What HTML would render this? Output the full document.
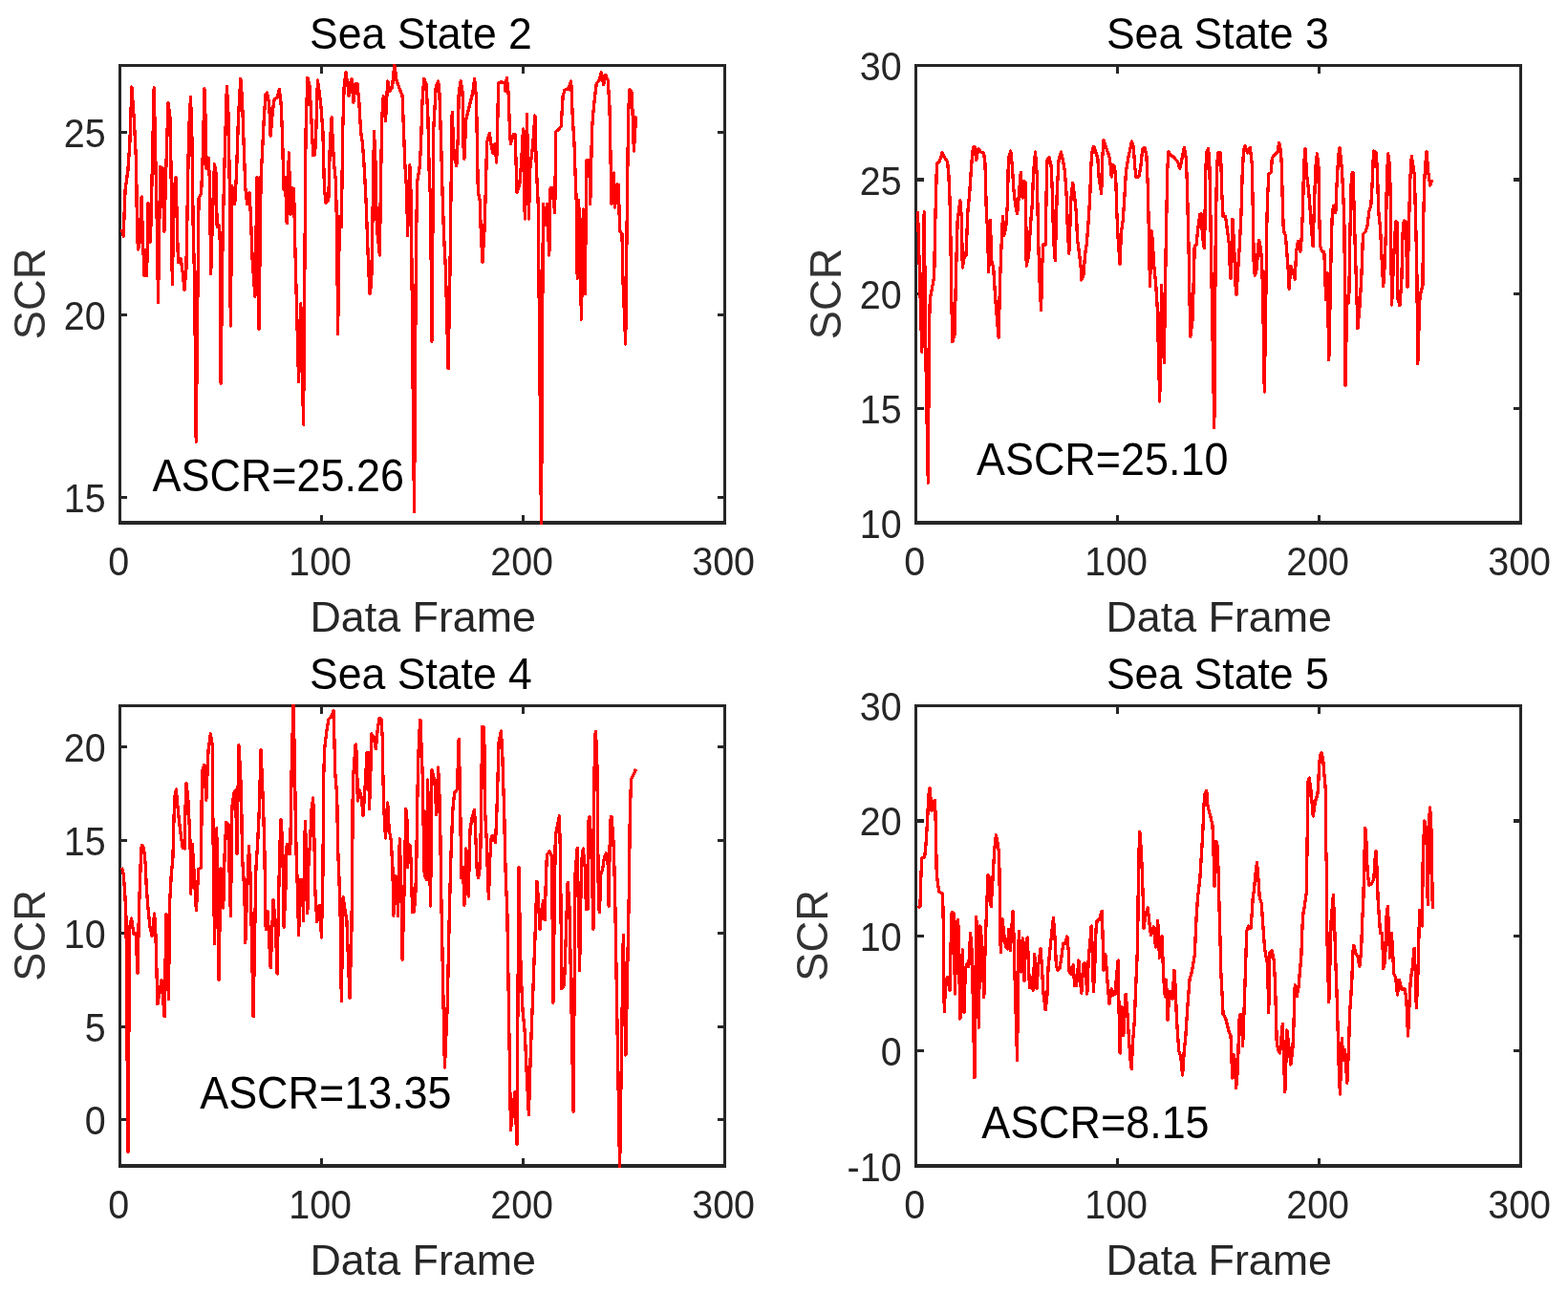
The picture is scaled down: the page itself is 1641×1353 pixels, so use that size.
<!DOCTYPE html>
<html lang="en"><head><meta charset="utf-8"><title>SCR vs Data Frame</title>
<style>
html,body{margin:0;padding:0;background:#fff;}
body{width:1641px;height:1353px;overflow:hidden;}
svg{display:block;}
text{font-family:"Liberation Sans",sans-serif;}
.tk{font-size:41.8px;fill:#262626;}
.lb{font-size:45.2px;fill:#262626;}
.yl{font-size:46.4px;fill:#333;}
.tt{font-size:46.6px;fill:#000;}
.an{font-size:47.6px;fill:#000;}
.ax{fill:#262626;shape-rendering:crispEdges;}
.ln{shape-rendering:crispEdges;fill:none;stroke:#ff0000;stroke-width:3.3;stroke-linejoin:round;stroke-linecap:butt;}
</style></head><body>
<svg width="1641" height="1353" viewBox="0 0 1641 1353">
<rect width="1641" height="1353" fill="#fff"/>

<g class="plot">
<path class="ax" d="M124 67h636v3h-636zM124 545h636v4h-636zM124 67h3v482h-3zM757 67h3v482h-3zM335 539h3v6h-3zM335 70h3v7h-3zM546 539h3v6h-3zM546 70h3v7h-3zM127 137h6v3h-6zM751 137h6v3h-6zM127 328h6v3h-6zM751 328h6v3h-6zM127 519h6v3h-6zM751 519h6v3h-6z"/>
<clipPath id="c0"><rect x="124.0" y="67.0" width="636.0" height="482.0"/></clipPath>
<polyline class="ln" clip-path="url(#c0)" points="127.6,240.2 129.2,247.1 131.1,198.6 133.9,178.3 135.9,148.7 137.9,91.0 140.3,124.7 142.6,170.9 143.5,244.8 144.6,261.1 146.1,254.1 148.1,206.0 149.6,254.1 151.1,288.3 153.6,288.8 155.1,212.5 157.5,253.2 159.2,180.2 161.2,91.8 162.9,170.9 164.4,239.3 165.5,316.3 167.7,174.6 169.9,175.5 171.9,242.1 174.0,170.9 176.0,107.1 178.2,124.7 179.2,189.4 180.3,297.5 182.3,196.8 184.1,185.7 185.6,244.8 186.5,274.4 189.3,270.7 191.2,285.5 193.0,303.1 194.9,281.8 196.3,207.9 197.6,137.6 199.5,101.6 200.8,137.6 202.3,244.8 203.6,291.1 205.2,462.3 208.0,207.9 210.6,202.3 212.4,159.8 213.9,92.9 215.4,133.9 216.1,176.4 218.3,165.4 219.4,189.4 220.7,286.4 222.6,222.7 224.4,171.8 225.9,180.2 227.2,237.4 229.1,235.6 230.3,253.2 231.1,401.3 233.1,244.8 235.0,170.9 237.4,90.5 239.2,122.8 240.2,189.4 241.3,341.0 242.9,194.9 245.7,213.4 247.5,182.0 249.4,124.7 251.8,82.2 253.5,104.4 254.9,145.0 256.8,196.8 258.6,213.4 260.9,201.4 262.3,222.7 264.2,272.6 266.9,310.2 269.0,185.7 271.0,344.4 273.1,185.7 274.3,163.5 276.2,124.7 278.0,98.8 279.5,97.0 281.7,108.1 283.2,142.3 285.4,115.5 287.3,103.4 290.1,102.5 292.3,93.3 294.1,108.1 295.6,143.2 296.9,198.6 298.4,185.7 300.2,233.8 302.4,159.8 303.9,224.5 305.8,196.8 307.6,197.7 308.5,244.8 312.6,399.8 314.8,317.6 317.6,444.2 320.0,139.5 321.8,81.3 324.0,89.6 325.9,124.7 327.7,162.6 329.6,161.7 330.9,133.9 332.4,84.0 334.2,97.0 336.0,111.8 337.9,137.6 339.4,196.8 341.0,212.5 343.8,209.7 345.3,152.4 347.1,122.8 348.4,152.4 349.9,174.6 351.4,189.4 352.7,244.8 353.6,349.5 355.4,226.4 357.3,237.4 358.8,133.9 360.1,91.4 361.9,75.7 363.8,87.7 365.1,100.7 366.5,87.7 368.0,82.2 369.9,107.1 372.1,87.7 373.9,87.7 375.8,106.2 377.6,137.6 379.5,150.6 381.3,176.4 383.2,213.4 385.0,263.3 386.9,307.7 388.7,296.6 390.0,226.4 391.5,137.6 393.0,170.9 394.3,237.4 397.4,267.0 398.5,189.4 399.8,122.8 401.3,100.7 403.5,126.5 405.7,85.0 408.1,95.1 410.5,91.4 412.8,67.4 415.0,84.0 418.3,93.3 421.1,99.7 422.4,133.9 423.8,170.9 425.7,200.5 426.6,246.7 428.8,172.8 430.3,207.9 431.6,352.7 433.5,535.7 435.5,250.4 436.8,189.4 439.0,176.4 440.5,152.4 442.0,106.2 443.8,82.2 446.0,87.7 447.9,122.8 449.4,189.4 450.6,207.9 451.9,357.3 453.8,133.9 456.2,91.4 458.6,85.0 459.9,97.0 461.7,152.4 463.0,200.5 464.5,244.8 466.4,281.8 469.1,385.9 471.0,281.8 471.9,207.9 473.2,117.3 475.2,163.5 477.8,173.7 479.3,143.2 480.2,97.0 482.1,85.0 484.1,97.0 485.0,152.4 485.9,166.3 487.8,124.7 490.2,115.5 492.9,104.4 494.8,97.0 496.6,82.2 498.5,102.5 499.4,152.4 500.3,200.5 502.2,209.7 503.1,237.4 504.9,274.4 506.8,244.8 507.7,219.0 508.6,189.4 509.6,148.7 512.4,139.5 514.2,152.4 516.0,160.7 517.9,150.6 519.7,170.0 520.7,130.2 521.6,86.8 524.4,85.9 528.1,86.8 529.0,95.1 530.3,81.3 532.1,97.0 533.6,139.5 534.5,150.6 537.3,140.4 539.1,140.4 540.1,170.9 541.0,201.4 543.8,192.2 545.6,170.9 547.5,134.9 549.3,229.1 551.5,119.2 553.4,229.1 554.9,174.6 557.6,152.4 559.9,121.0 561.3,174.6 563.2,213.4 566.5,552.3 568.4,213.4 570.6,235.6 572.4,213.4 574.8,267.0 576.1,196.8 578.0,196.8 580.7,222.7 581.7,137.6 584.4,135.8 587.2,132.1 589.1,100.7 590.9,94.2 594.6,93.3 597.7,85.0 599.2,121.0 601.1,152.4 602.0,180.2 603.5,217.1 604.2,291.1 605.7,209.7 608.5,334.2 610.3,219.0 612.2,307.7 614.0,167.2 616.8,167.2 617.7,213.4 619.6,133.9 621.4,111.8 624.2,87.7 627.0,84.0 629.4,75.7 631.6,88.7 633.8,78.5 636.2,84.0 638.0,111.8 639.0,163.5 639.9,213.4 642.3,181.1 643.6,217.1 645.4,193.1 647.3,193.1 648.6,241.2 651.0,244.8 651.9,291.1 654.7,360.1 656.0,244.8 656.9,170.9 657.8,115.5 658.9,93.3 661.1,97.0 662.1,119.2 663.4,158.0 665.4,122.8 665.6,133.9"/>
<text class="tk" transform="translate(124.10 602.00) scale(0.944 1)" text-anchor="middle">0</text>
<text class="tk" transform="translate(335.10 602.00) scale(0.944 1)" text-anchor="middle">100</text>
<text class="tk" transform="translate(546.10 602.00) scale(0.944 1)" text-anchor="middle">200</text>
<text class="tk" transform="translate(757.10 602.00) scale(0.944 1)" text-anchor="middle">300</text>
<text class="tk" transform="translate(110.60 154.00) scale(0.944 1)" text-anchor="end">25</text>
<text class="tk" transform="translate(110.60 345.00) scale(0.944 1)" text-anchor="end">20</text>
<text class="tk" transform="translate(110.60 536.00) scale(0.944 1)" text-anchor="end">15</text>
<text class="tt" transform="translate(440.50 50.70) scale(0.956 1)" text-anchor="middle">Sea State 2</text>
<text class="lb" transform="translate(442.70 661.00) scale(0.992 1)" text-anchor="middle">Data Frame</text>
<text class="yl" transform="translate(47.20 307.45) rotate(-90) scale(0.975 1)" text-anchor="middle">SCR</text>
<text class="an" transform="translate(159.60 514.00) scale(0.9437 1)">ASCR=25.26</text>
</g>
<g class="plot">
<path class="ax" d="M957 67h636v3h-636zM957 545h636v4h-636zM957 67h3v482h-3zM1590 67h3v482h-3zM1168 539h3v6h-3zM1168 70h3v7h-3zM1379 539h3v6h-3zM1379 70h3v7h-3zM960 186h7v4h-7zM1584 186h6v4h-6zM960 306h7v3h-7zM1584 306h6v3h-6zM960 426h7v3h-7zM1584 426h6v3h-6z"/>
<clipPath id="c1"><rect x="957.0" y="67.0" width="636.0" height="482.0"/></clipPath>
<polyline class="ln" clip-path="url(#c1)" points="960.5,220.9 961.6,257.9 964.8,368.4 967.2,221.8 969.2,392.4 971.3,505.2 972.5,341.1 973.3,313.3 975.0,304.1 977.7,289.3 978.6,239.4 979.6,202.4 980.5,171.0 983.3,169.2 986.0,159.9 988.8,165.4 991.6,169.2 992.9,183.9 994.0,208.0 994.9,248.6 995.8,313.3 996.8,357.7 999.0,350.3 999.9,313.3 1000.8,276.4 1002.1,232.0 1004.9,209.8 1006.4,228.3 1007.3,280.1 1009.1,269.0 1011.0,267.1 1012.9,220.9 1014.7,202.4 1016.5,174.7 1018.4,154.4 1019.9,153.4 1021.7,167.3 1023.9,155.3 1026.2,159.0 1029.5,159.9 1031.0,171.0 1032.3,220.9 1033.5,239.4 1034.7,284.7 1036.3,230.2 1037.8,272.7 1039.7,280.1 1041.5,309.6 1043.3,331.8 1045.2,353.1 1046.5,294.8 1048.0,257.9 1049.5,226.4 1050.7,246.8 1052.6,239.4 1054.4,213.5 1055.4,165.4 1057.8,158.1 1059.4,174.7 1060.9,198.7 1062.8,215.4 1064.6,223.7 1066.5,202.4 1068.3,180.2 1070.2,207.0 1071.1,189.5 1073.5,191.3 1074.2,278.2 1076.6,267.1 1078.5,235.7 1080.3,213.5 1081.6,180.2 1083.5,159.0 1085.3,183.9 1086.8,256.0 1088.1,294.8 1089.6,324.4 1090.8,276.4 1092.0,256.0 1094.2,256.0 1095.1,202.4 1096.0,167.3 1097.9,164.5 1100.1,172.8 1101.6,206.1 1102.5,248.6 1104.3,272.7 1106.2,202.4 1108.0,167.3 1110.4,159.0 1112.3,167.3 1114.5,180.2 1116.4,208.0 1117.3,239.4 1118.8,265.3 1121.0,206.1 1122.8,191.3 1124.7,206.1 1126.5,224.6 1127.5,250.5 1129.3,263.4 1131.2,280.1 1131.8,293.0 1134.1,287.4 1135.5,267.1 1137.4,254.2 1139.2,230.2 1140.7,206.1 1142.0,171.0 1143.3,156.2 1144.8,153.4 1147.0,159.9 1148.8,165.4 1150.3,187.6 1152.7,202.4 1153.7,165.4 1155.0,147.0 1156.8,152.5 1159.6,159.9 1161.4,165.4 1163.3,184.9 1164.8,172.8 1166.6,174.7 1167.9,191.3 1168.8,220.9 1170.1,248.6 1172.0,276.4 1173.4,243.1 1175.3,230.2 1177.1,202.4 1178.4,180.2 1180.8,165.4 1182.7,156.2 1184.5,147.9 1186.4,154.4 1187.7,174.7 1189.2,185.8 1191.9,184.9 1193.8,174.7 1195.6,156.2 1198.0,154.4 1199.9,163.6 1201.2,193.2 1202.1,230.2 1203.0,276.4 1203.6,299.5 1204.9,241.2 1206.2,250.5 1207.6,276.4 1209.5,294.8 1211.3,322.6 1213.7,420.1 1215.6,298.5 1218.3,379.5 1220.2,257.9 1220.9,220.9 1221.9,174.7 1223.0,159.0 1225.2,162.7 1228.0,163.6 1230.7,167.3 1232.6,169.2 1234.8,176.5 1237.2,165.4 1239.4,154.4 1241.3,165.4 1242.4,193.2 1243.3,230.2 1244.2,267.1 1245.0,313.3 1245.9,352.1 1248.3,331.8 1249.2,294.8 1250.2,257.9 1252.0,256.0 1253.8,239.4 1255.7,224.6 1257.2,223.7 1258.5,246.8 1260.3,259.7 1260.9,239.4 1261.6,183.9 1262.7,159.9 1264.6,155.3 1265.9,174.7 1266.8,220.9 1267.7,276.4 1270.8,447.5 1272.3,239.4 1273.4,183.9 1274.5,159.9 1277.0,159.9 1277.9,171.0 1278.8,202.4 1280.1,226.4 1282.5,226.4 1284.3,239.4 1286.2,254.2 1287.1,276.4 1288.0,291.1 1289.9,229.2 1291.7,257.9 1292.7,294.8 1294.1,308.7 1295.4,285.6 1297.3,257.9 1299.1,220.9 1300.1,183.9 1301.5,158.1 1302.8,152.5 1305.6,159.9 1308.4,154.4 1310.2,171.0 1310.5,183.9 1311.5,230.2 1312.2,276.4 1313.3,288.4 1315.5,280.1 1316.5,257.9 1317.8,251.4 1319.6,261.6 1320.7,276.4 1321.7,309.6 1323.3,410.0 1324.8,313.3 1325.7,239.4 1326.6,206.1 1327.9,182.1 1330.3,180.2 1331.3,165.4 1334.0,161.8 1336.8,159.9 1338.7,149.7 1340.5,158.1 1341.4,174.7 1342.3,211.7 1343.3,241.2 1345.5,246.8 1347.0,267.1 1348.3,283.8 1349.2,302.2 1350.7,278.2 1352.9,283.8 1355.3,292.1 1356.6,263.4 1358.4,252.3 1360.8,263.4 1362.1,250.5 1363.6,217.2 1364.5,174.7 1366.0,155.3 1367.7,183.9 1369.5,198.7 1371.0,217.2 1372.5,239.4 1374.1,257.9 1375.6,209.8 1376.9,174.7 1378.4,160.8 1379.9,174.7 1380.6,220.9 1381.7,257.9 1383.9,263.4 1385.8,263.4 1386.7,285.6 1387.6,313.3 1389.1,285.6 1390.8,376.7 1393.2,257.9 1394.1,228.3 1395.4,215.4 1397.8,222.8 1398.7,198.7 1400.6,165.4 1401.9,154.4 1403.3,165.4 1404.6,180.2 1406.1,211.7 1407.0,239.4 1408.0,403.1 1409.8,309.6 1411.7,317.0 1413.0,239.4 1414.4,182.1 1415.9,180.2 1417.2,220.9 1418.1,254.2 1419.4,294.8 1420.9,343.8 1422.8,322.6 1424.6,294.8 1425.5,272.7 1426.5,244.9 1429.2,242.2 1431.1,235.7 1432.9,220.9 1434.8,215.4 1436.6,183.9 1437.5,158.1 1440.3,159.9 1441.6,183.9 1442.7,220.9 1444.6,239.4 1445.9,267.1 1447.7,299.5 1449.0,280.1 1450.5,239.4 1451.4,187.6 1452.7,160.8 1454.2,171.0 1455.1,198.7 1456.0,276.4 1456.6,318.9 1458.8,267.1 1460.7,232.0 1461.9,232.0 1463.0,313.3 1464.9,319.8 1466.8,294.8 1468.0,244.9 1469.3,231.1 1471.2,232.0 1473.0,300.4 1474.5,235.7 1475.8,187.6 1477.3,163.6 1479.1,174.7 1480.4,183.9 1481.5,226.4 1482.8,280.1 1483.8,380.4 1486.0,309.6 1488.9,298.5 1489.7,228.3 1490.8,187.6 1492.1,169.2 1493.0,158.1 1494.8,180.2 1496.7,194.1 1498.5,189.5 1499.8,189.1"/>
<text class="tk" transform="translate(957.10 602.00) scale(0.944 1)" text-anchor="middle">0</text>
<text class="tk" transform="translate(1168.10 602.00) scale(0.944 1)" text-anchor="middle">100</text>
<text class="tk" transform="translate(1379.10 602.00) scale(0.944 1)" text-anchor="middle">200</text>
<text class="tk" transform="translate(1590.10 602.00) scale(0.944 1)" text-anchor="middle">300</text>
<text class="tk" transform="translate(943.60 84.00) scale(0.944 1)" text-anchor="end">30</text>
<text class="tk" transform="translate(943.60 203.62) scale(0.944 1)" text-anchor="end">25</text>
<text class="tk" transform="translate(943.60 323.25) scale(0.944 1)" text-anchor="end">20</text>
<text class="tk" transform="translate(943.60 442.88) scale(0.944 1)" text-anchor="end">15</text>
<text class="tk" transform="translate(943.60 562.50) scale(0.944 1)" text-anchor="end">10</text>
<text class="tt" transform="translate(1274.30 50.70) scale(0.956 1)" text-anchor="middle">Sea State 3</text>
<text class="lb" transform="translate(1275.70 661.00) scale(0.992 1)" text-anchor="middle">Data Frame</text>
<text class="yl" transform="translate(880.20 307.45) rotate(-90) scale(0.975 1)" text-anchor="middle">SCR</text>
<text class="an" transform="translate(1022.00 497.00) scale(0.9437 1)">ASCR=25.10</text>
</g>
<g class="plot">
<path class="ax" d="M124 737h636v3h-636zM124 1218h636v4h-636zM124 737h3v485h-3zM757 737h3v485h-3zM335 1212h3v6h-3zM335 740h3v7h-3zM546 1212h3v6h-3zM546 740h3v7h-3zM127 780h6v3h-6zM751 780h6v3h-6zM127 878h6v3h-6zM751 878h6v3h-6zM127 975h6v3h-6zM751 975h6v3h-6zM127 1073h6v3h-6zM751 1073h6v3h-6zM127 1170h6v3h-6zM751 1170h6v3h-6z"/>
<clipPath id="c2"><rect x="124.0" y="737.0" width="636.0" height="485.0"/></clipPath>
<polyline class="ln" clip-path="url(#c2)" points="127.6,907.5 129.2,914.8 130.7,933.3 132.0,961.0 133.9,1205.7 135.7,970.3 137.6,961.0 140.0,977.7 142.2,976.8 144.0,1019.0 145.5,951.8 146.8,914.8 147.7,887.1 148.7,884.3 150.5,887.1 152.3,905.6 153.3,929.6 155.1,951.8 157.0,970.3 159.2,979.5 161.6,955.9 162.9,977.7 164.9,1050.8 169.0,1025.5 172.1,1063.9 174.0,956.4 176.4,1045.8 177.7,942.6 179.2,916.7 181.0,896.4 181.9,859.4 182.8,833.5 184.3,826.1 185.6,840.9 187.5,859.4 189.3,874.2 191.2,887.1 193.4,888.0 193.9,850.1 194.9,819.6 196.7,833.5 198.0,859.4 199.1,883.4 199.7,935.2 201.3,883.4 203.2,914.8 205.4,952.7 207.8,909.3 210.6,907.5 210.9,859.4 211.5,807.6 213.9,800.2 215.8,837.2 218.0,785.5 220.4,767.9 222.2,779.9 222.8,850.1 223.5,914.8 224.6,987.6 226.7,866.8 227.6,914.8 229.1,1025.5 230.9,908.4 232.8,933.3 233.7,950.0 235.0,896.4 236.8,860.3 239.2,863.1 240.2,914.8 241.4,958.3 242.9,844.6 244.8,829.8 246.6,827.0 247.9,893.6 249.9,779.9 251.6,807.6 252.7,840.9 253.5,896.4 255.9,933.3 256.8,986.6 258.6,933.3 260.5,885.3 262.0,914.8 263.2,970.3 265.1,1063.9 267.9,909.3 269.7,881.6 271.6,840.9 272.9,784.5 274.3,813.2 275.6,846.5 276.8,885.3 277.5,933.3 278.2,972.1 280.1,953.7 283.2,1012.9 286.0,941.6 288.2,964.8 290.1,1019.0 291.9,925.9 293.2,877.9 294.1,857.5 295.6,881.6 296.5,924.1 297.1,970.3 298.9,929.6 300.2,883.4 300.9,883.4 303.7,893.6 305.2,803.9 307.0,735.5 308.3,791.0 309.2,850.1 310.2,896.4 311.5,933.3 312.6,978.6 314.4,920.4 316.3,920.4 317.6,963.8 318.5,896.4 319.4,859.4 320.7,896.4 321.8,955.5 323.1,896.4 324.6,883.4 325.9,848.3 327.7,835.0 329.0,881.6 329.9,933.3 331.8,964.8 333.3,948.1 335.1,947.2 336.4,981.1 337.9,914.8 338.8,809.5 339.7,783.6 341.6,767.0 344.0,752.2 346.6,750.3 349.0,743.9 349.9,774.4 350.8,809.5 352.7,831.7 353.6,887.1 354.9,918.5 356.4,966.6 357.3,1047.6 359.1,938.9 361.0,951.8 362.9,962.9 366.0,1044.9 368.0,970.3 368.8,889.0 369.3,816.9 370.6,800.2 372.1,779.0 373.4,789.1 374.3,838.1 375.8,826.1 377.6,831.7 378.9,840.9 380.0,853.8 382.3,820.6 384.1,787.3 385.4,787.3 386.5,846.5 387.8,809.5 388.7,767.9 390.9,770.7 393.4,783.6 395.2,763.3 397.0,751.3 398.9,752.2 400.2,770.7 400.9,813.2 402.0,850.1 403.5,877.0 405.7,840.0 407.2,868.6 409.1,877.9 410.9,907.5 411.8,958.3 413.7,916.7 415.5,917.6 416.4,958.3 418.3,877.9 419.8,922.2 421.1,1004.2 423.5,914.8 424.8,846.5 426.1,859.4 426.6,907.5 427.9,883.4 429.4,885.3 430.3,907.5 431.6,954.6 433.5,953.7 434.9,933.3 435.9,896.4 436.8,837.2 437.7,798.4 438.6,770.7 439.9,753.1 441.0,779.9 442.3,813.2 443.2,866.8 444.2,914.8 446.4,920.4 447.5,816.0 448.8,859.4 450.6,948.1 451.9,805.8 453.4,811.3 454.9,816.9 456.8,852.9 458.6,803.0 459.9,831.7 460.8,868.6 461.7,933.3 465.4,1117.0 468.2,1053.2 470.4,951.8 471.9,896.4 473.8,848.3 475.6,829.8 478.4,826.1 480.2,773.4 481.5,829.8 482.2,877.9 482.8,918.5 484.6,907.5 485.9,947.2 487.8,888.0 490.2,938.0 492.0,868.6 493.9,855.7 496.6,847.4 497.9,877.9 499.4,914.8 500.7,918.5 502.6,903.8 503.7,840.9 504.6,760.5 505.9,760.5 507.2,785.5 507.7,850.1 509.2,877.9 510.1,905.6 511.4,940.7 512.9,896.4 514.2,876.0 516.0,874.2 518.5,881.6 519.7,855.7 521.0,813.2 522.1,776.2 524.4,765.1 525.8,789.1 526.6,816.9 527.7,848.3 528.4,887.1 529.5,924.1 530.8,951.8 534.5,1182.6 538.8,1142.8 541.0,1197.4 542.9,907.5 545.1,1016.2 547.1,1058.7 549.3,1080.9 551.4,1127.1 553.4,1166.3 555.4,1099.4 557.6,1043.9 559.7,988.5 561.9,922.2 563.5,942.6 565.0,972.1 566.9,951.8 568.7,942.6 570.2,962.9 571.5,914.8 572.4,894.5 575.2,890.8 577.6,896.4 578.9,1049.1 581.3,874.2 585.4,853.8 586.5,896.4 587.8,1034.7 590.5,1031.0 594.2,923.2 596.1,951.8 600.1,1163.2 602.0,914.8 604.2,887.1 606.6,1015.3 608.5,901.9 610.3,888.0 612.2,907.5 613.5,951.8 614.9,951.8 615.9,859.4 617.1,854.8 618.6,877.9 619.6,914.8 620.9,972.1 622.0,807.6 623.2,765.1 624.7,785.5 625.7,877.9 626.4,948.1 627.5,954.6 628.8,914.8 630.6,910.2 632.5,896.4 634.3,892.7 636.2,905.6 637.1,948.1 638.6,859.4 639.9,854.2 641.7,874.2 642.7,900.1 643.6,933.3 648.6,1225.1 652.3,978.3 654.9,1104.0 658.4,929.6 659.3,850.1 660.6,815.0 662.6,811.3 665.6,804.9"/>
<text class="tk" transform="translate(124.10 1275.00) scale(0.944 1)" text-anchor="middle">0</text>
<text class="tk" transform="translate(335.10 1275.00) scale(0.944 1)" text-anchor="middle">100</text>
<text class="tk" transform="translate(546.10 1275.00) scale(0.944 1)" text-anchor="middle">200</text>
<text class="tk" transform="translate(757.10 1275.00) scale(0.944 1)" text-anchor="middle">300</text>
<text class="tk" transform="translate(110.60 797.00) scale(0.944 1)" text-anchor="end">20</text>
<text class="tk" transform="translate(110.60 895.00) scale(0.944 1)" text-anchor="end">15</text>
<text class="tk" transform="translate(110.60 992.00) scale(0.944 1)" text-anchor="end">10</text>
<text class="tk" transform="translate(110.60 1090.00) scale(0.944 1)" text-anchor="end">5</text>
<text class="tk" transform="translate(110.60 1187.00) scale(0.944 1)" text-anchor="end">0</text>
<text class="tt" transform="translate(440.50 720.70) scale(0.956 1)" text-anchor="middle">Sea State 4</text>
<text class="lb" transform="translate(442.70 1334.00) scale(0.992 1)" text-anchor="middle">Data Frame</text>
<text class="yl" transform="translate(47.20 978.95) rotate(-90) scale(0.975 1)" text-anchor="middle">SCR</text>
<text class="an" transform="translate(209.20 1159.60) scale(0.9437 1)">ASCR=13.35</text>
</g>
<g class="plot">
<path class="ax" d="M957 737h636v3h-636zM957 1218h636v4h-636zM957 737h3v485h-3zM1590 737h3v485h-3zM1168 1212h3v6h-3zM1168 740h3v7h-3zM1379 1212h3v6h-3zM1379 740h3v7h-3zM960 857h7v4h-7zM1584 857h6v4h-6zM960 978h7v3h-7zM1584 978h6v3h-6zM960 1098h7v3h-7zM1584 1098h6v3h-6z"/>
<clipPath id="c3"><rect x="957.0" y="737.0" width="636.0" height="485.0"/></clipPath>
<polyline class="ln" clip-path="url(#c3)" points="960.5,949.6 962.9,948.6 963.9,917.2 964.8,897.8 967.6,896.9 969.0,883.9 970.7,856.2 971.8,832.2 973.1,824.8 975.0,848.8 976.4,838.6 978.6,837.7 979.6,874.7 980.1,909.8 981.4,924.6 982.9,932.9 985.1,934.2 986.6,935.7 987.3,967.1 987.9,1031.8 988.3,1058.6 989.7,1025.3 991.6,1022.6 994.0,1036.4 995.3,980.1 996.2,954.2 998.1,956.0 999.5,1040.1 1000.8,967.1 1002.7,962.5 1003.6,994.8 1004.5,1050.3 1004.9,1066.0 1007.3,993.9 1009.1,1059.5 1010.3,1013.3 1011.9,1008.7 1013.8,1011.5 1015.6,976.4 1016.9,993.0 1018.0,1031.8 1019.9,1127.9 1021.7,959.7 1023.0,983.8 1024.3,1075.2 1025.8,969.0 1027.3,981.9 1028.6,1013.3 1029.8,1043.8 1031.0,994.8 1032.3,957.9 1033.2,935.7 1034.1,915.4 1036.0,920.9 1037.2,948.6 1038.7,924.6 1039.7,906.1 1040.9,887.6 1042.4,873.8 1044.3,883.9 1045.6,893.2 1046.1,920.9 1046.7,976.4 1047.4,996.7 1048.9,961.6 1050.7,976.4 1052.6,991.1 1054.4,993.0 1055.7,972.7 1057.2,994.8 1058.7,972.7 1060.0,953.2 1060.9,976.4 1061.8,1013.3 1064.6,1109.4 1065.7,994.8 1066.5,974.5 1068.3,1017.0 1070.2,981.9 1072.0,1026.3 1073.5,987.5 1075.3,981.0 1076.6,1013.3 1077.5,1033.7 1079.4,1022.6 1081.2,1036.4 1082.7,998.5 1084.9,1034.6 1086.8,1009.6 1089.0,992.1 1090.5,1013.3 1092.0,1039.2 1094.2,1056.8 1096.0,1041.0 1097.0,1013.3 1098.8,994.8 1100.7,976.4 1102.5,960.6 1104.3,985.6 1105.3,1009.6 1106.8,1015.2 1109.0,1013.3 1110.8,1002.2 1112.7,987.5 1114.5,987.5 1116.9,980.1 1118.2,994.8 1119.1,1017.0 1121.0,1018.9 1123.2,1009.6 1124.7,1031.8 1126.5,1031.8 1128.9,1005.0 1130.2,1022.6 1131.8,1039.2 1133.7,1009.6 1135.5,1007.8 1137.8,1040.1 1139.2,1004.1 1140.7,987.5 1142.2,969.0 1143.3,994.8 1144.4,1037.4 1145.7,1013.3 1147.0,972.7 1148.1,963.4 1150.3,962.5 1151.8,957.9 1153.1,953.2 1154.0,976.4 1155.0,1015.2 1156.8,998.5 1158.1,1013.3 1159.6,1035.5 1161.0,1050.3 1163.3,1034.6 1165.1,1041.0 1167.0,1040.1 1168.5,1022.6 1170.1,1005.0 1171.0,1053.9 1172.1,1102.0 1174.0,1053.9 1175.8,1083.5 1178.1,1040.1 1179.5,1053.9 1180.8,1076.1 1182.7,1105.7 1184.2,1118.6 1185.5,1090.9 1187.3,1068.7 1188.2,1044.7 1189.2,1020.7 1190.6,989.2 1191.5,906.1 1192.8,870.1 1194.3,889.5 1195.2,909.8 1196.2,939.4 1196.9,971.7 1198.8,957.9 1201.2,949.6 1202.6,963.4 1204.5,978.2 1207.3,969.9 1209.5,991.1 1211.7,963.4 1213.5,1002.2 1216.0,979.1 1216.9,1002.2 1218.3,1031.8 1219.3,1042.9 1220.6,1025.3 1222.0,1067.8 1223.9,1037.3 1225.2,1037.3 1227.0,1045.6 1228.9,1015.1 1230.4,1037.3 1231.3,1063.2 1232.6,1083.5 1233.9,1100.2 1235.7,1105.7 1237.6,1125.1 1239.1,1102.0 1240.9,1083.5 1242.8,1053.9 1245.0,1025.3 1246.8,1018.8 1248.3,1011.4 1250.2,1000.3 1251.1,981.9 1252.0,961.6 1253.5,939.4 1255.7,920.9 1257.5,893.2 1258.8,871.0 1259.9,843.3 1261.2,829.4 1262.7,827.6 1264.0,843.3 1266.8,854.4 1269.0,863.6 1270.1,893.2 1271.0,927.4 1272.3,880.2 1273.8,882.1 1275.1,911.7 1276.0,948.6 1277.0,983.8 1277.9,1018.8 1279.3,1044.7 1280.1,1061.3 1282.5,1065.0 1284.3,1072.4 1286.2,1079.8 1288.0,1083.5 1289.0,1105.7 1289.5,1127.9 1291.2,1103.8 1292.3,1109.4 1293.6,1138.6 1295.4,1118.6 1296.4,1083.5 1297.3,1063.2 1298.6,1061.3 1299.7,1072.4 1300.6,1094.6 1301.9,1061.3 1302.8,1035.5 1303.8,1004.0 1304.7,974.5 1306.5,969.0 1308.9,971.7 1310.2,956.0 1311.2,939.4 1312.6,930.1 1313.7,917.2 1315.5,902.4 1317.0,920.9 1318.3,939.4 1320.2,944.9 1321.5,963.4 1322.6,980.1 1323.9,994.8 1325.2,1002.2 1326.6,1009.6 1327.7,1059.5 1329.0,996.7 1331.3,994.8 1333.1,1004.0 1334.4,1026.2 1335.5,1063.2 1336.2,1090.9 1337.7,1098.3 1339.6,1102.0 1342.3,1071.5 1344.8,1142.7 1347.0,1078.0 1349.2,1098.3 1351.0,1114.0 1352.9,1096.5 1354.0,1072.4 1354.7,1042.8 1355.3,1030.8 1357.1,1042.8 1359.0,1033.6 1360.3,1017.0 1361.8,1002.2 1362.7,976.4 1363.6,957.9 1365.5,946.8 1367.3,933.8 1368.2,872.9 1369.2,815.5 1370.3,814.2 1372.1,828.5 1374.3,854.0 1376.2,841.0 1377.3,835.0 1378.4,833.6 1379.5,826.2 1380.3,807.0 1381.4,792.2 1382.9,787.4 1384.7,795.1 1385.5,805.5 1386.6,818.0 1387.7,831.3 1387.6,883.9 1388.2,902.4 1388.7,967.1 1389.5,1005.9 1390.8,1048.5 1392.3,994.8 1393.2,961.6 1395.4,936.6 1396.9,976.4 1397.8,1005.9 1399.1,1041.0 1400.2,1079.8 1401.1,1113.1 1402.4,1145.1 1404.3,1086.3 1406.1,1109.4 1407.6,1098.3 1409.8,1133.4 1411.7,1090.9 1412.6,1059.5 1413.9,1041.0 1415.0,1022.5 1415.7,998.5 1416.8,989.3 1419.1,998.5 1420.9,1000.4 1422.8,1011.5 1424.6,994.8 1425.5,967.1 1426.8,943.1 1427.7,906.1 1428.8,866.4 1430.2,883.9 1431.1,911.7 1432.9,926.5 1435.7,924.6 1437.9,919.1 1438.8,902.4 1439.9,890.4 1441.2,911.7 1442.2,943.1 1443.5,961.6 1444.6,976.4 1446.4,976.4 1447.2,994.8 1447.7,1013.3 1449.6,1005.9 1450.8,961.6 1452.3,948.6 1453.8,976.4 1454.5,1002.2 1456.4,976.4 1457.9,1002.2 1458.8,1018.9 1460.7,1022.6 1462.5,1041.0 1464.3,1025.3 1466.8,1035.5 1469.9,1034.6 1471.7,1042.9 1473.6,1083.9 1475.4,1041.0 1476.4,1024.4 1478.2,1013.3 1480.1,992.1 1481.5,1022.6 1482.3,1054.9 1483.8,1022.6 1484.7,989.3 1485.6,952.3 1487.5,952.3 1488.4,969.0 1489.3,891.3 1490.8,859.0 1492.1,865.5 1493.0,874.7 1494.3,946.8 1495.4,883.9 1496.3,845.1 1497.6,854.4 1498.5,898.7 1499.3,951.4"/>
<text class="tk" transform="translate(957.10 1275.00) scale(0.944 1)" text-anchor="middle">0</text>
<text class="tk" transform="translate(1168.10 1275.00) scale(0.944 1)" text-anchor="middle">100</text>
<text class="tk" transform="translate(1379.10 1275.00) scale(0.944 1)" text-anchor="middle">200</text>
<text class="tk" transform="translate(1590.10 1275.00) scale(0.944 1)" text-anchor="middle">300</text>
<text class="tk" transform="translate(943.60 754.00) scale(0.944 1)" text-anchor="end">30</text>
<text class="tk" transform="translate(943.60 874.38) scale(0.944 1)" text-anchor="end">20</text>
<text class="tk" transform="translate(943.60 994.75) scale(0.944 1)" text-anchor="end">10</text>
<text class="tk" transform="translate(943.60 1115.12) scale(0.944 1)" text-anchor="end">0</text>
<text class="tk" transform="translate(943.60 1235.50) scale(0.944 1)" text-anchor="end">-10</text>
<text class="tt" transform="translate(1274.30 720.70) scale(0.956 1)" text-anchor="middle">Sea State 5</text>
<text class="lb" transform="translate(1275.70 1334.00) scale(0.992 1)" text-anchor="middle">Data Frame</text>
<text class="yl" transform="translate(866.20 978.95) rotate(-90) scale(0.975 1)" text-anchor="middle">SCR</text>
<text class="an" transform="translate(1027.20 1190.80) scale(0.9437 1)">ASCR=8.15</text>
</g>
</svg></body></html>
